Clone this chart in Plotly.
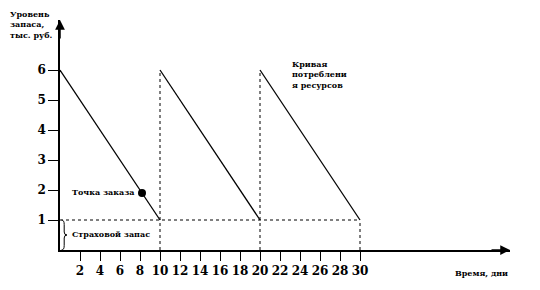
import plotly.graph_objects as go

# ---- data ----
cycle_starts = [0, 10, 20]
cycle_ends = [10, 20, 30]
max_stock = 6
safety_stock = 1
reorder_time = 8.2
reorder_level = 1.9
x_ticks = [2, 4, 6, 8, 10, 12, 14, 16, 18, 20, 22, 24, 26, 28, 30]
x_tick_labels = ["2", "4", "6", "8", "10", "12", "14", "16", "18", "20", "22", "24", "26", "28", "30"]
y_ticks = [1, 2, 3, 4, 5, 6]
y_tick_labels = ["1", "2", "3", "4", "5", "6"]

FONT = "DejaVu Serif"
bold = dict(family=FONT, size=8, color="black")
tickf = dict(family=FONT, size=12, color="black")


def b(s):
    return "<b>" + s.replace("<br>", "</b><br><b>") + "</b>"


fig = go.Figure()

# saw-tooth consumption curve
sx, sy = [], []
for a, e in zip(cycle_starts, cycle_ends):
    sx += [a, e, None]
    sy += [max_stock, safety_stock, None]
fig.add_trace(go.Scatter(x=sx, y=sy, mode="lines",
                         line=dict(color="black", width=1.3), hoverinfo="skip"))

# dotted guides
dx, dy = [], []
for e in cycle_ends[:-1]:
    dx += [e, e, None]
    dy += [0, max_stock, None]
dx += [cycle_ends[-1], cycle_ends[-1], None]
dy += [0, safety_stock, None]
dx += [0, cycle_ends[-1]]
dy += [safety_stock, safety_stock]
fig.add_trace(go.Scatter(x=dx, y=dy, mode="lines",
                         line=dict(color="black", width=1, dash="dot"), hoverinfo="skip"))

# reorder point
fig.add_trace(go.Scatter(x=[reorder_time], y=[reorder_level], mode="markers",
                         marker=dict(color="black", size=8), hoverinfo="skip"))

# safety stock brace
fig.add_shape(type="path",
              path="M 0.15,1 Q 0.42,1 0.42,0.85 L 0.42,0.6 Q 0.42,0.5 0.7,0.5 "
                   "Q 0.42,0.5 0.42,0.4 L 0.42,0.15 Q 0.42,0 0.15,0",
              line=dict(color="black", width=1))

# axis arrows
fig.add_annotation(x=45, y=0, ax=43, ay=0, xref="x", yref="y", axref="x", ayref="y",
                   text="", showarrow=True, arrowhead=2, arrowsize=1.3, arrowwidth=1.5,
                   arrowcolor="black")
fig.add_annotation(x=0, y=7.67, ax=0, ay=7.0, xref="x", yref="y", axref="x", ayref="y",
                   text="", showarrow=True, arrowhead=2, arrowsize=1.3, arrowwidth=1.5,
                   arrowcolor="black")

# texts (paper coords for those outside the axis ranges)
# plot area: x 60..510 px, y 20..250 px
fig.add_annotation(x=-52 / 450, y=(250 - 25) / 230, xref="paper", yref="paper",
                   xanchor="left", yanchor="middle",
                   align="left", showarrow=False, font=bold,
                   text=b("Уровень<br>запаса,<br>тыс. руб."))
fig.add_annotation(x=(481 - 60) / 450, y=(250 - 273) / 230, xref="paper", yref="paper",
                   xanchor="center", yanchor="middle",
                   showarrow=False, font=bold, text=b("Время, дни"))
fig.add_annotation(x=23.0, y=5.86, xref="x", yref="y", xanchor="left", yanchor="middle",
                   align="left", showarrow=False, font=bold,
                   text=b("Кривая<br>потреблени<br>я ресурсов"))
fig.add_annotation(x=1.0, y=1.93, xref="x", yref="y", xanchor="left", yanchor="middle",
                   showarrow=False, font=bold, text=b("Точка заказа"))
fig.add_annotation(x=0.95, y=0.55, xref="x", yref="y", xanchor="left", yanchor="middle",
                   showarrow=False, font=bold, text=b("Страховой запас"))

fig.update_layout(
    width=540, height=290,
    margin=dict(l=60, r=30, t=20, b=40),
    paper_bgcolor="white", plot_bgcolor="white",
    showlegend=False,
    xaxis=dict(range=[0, 45], showgrid=False, zeroline=False, showline=True,
               linecolor="black", linewidth=1.5, ticks="outside", ticklen=9,
               tickwidth=1.3, tickcolor="black", tickvals=x_ticks,
               ticktext=[b(t) for t in x_tick_labels], tickfont=tickf, fixedrange=True),
    yaxis=dict(range=[0, 7.667], showgrid=False, zeroline=False, showline=True,
               linecolor="black", linewidth=1.5, ticks="outside", ticklen=10,
               tickwidth=1.3, tickcolor="black", tickvals=y_ticks,
               ticktext=[b(t) for t in y_tick_labels], tickfont=tickf, fixedrange=True),
)

fig.write_html("out.html")
